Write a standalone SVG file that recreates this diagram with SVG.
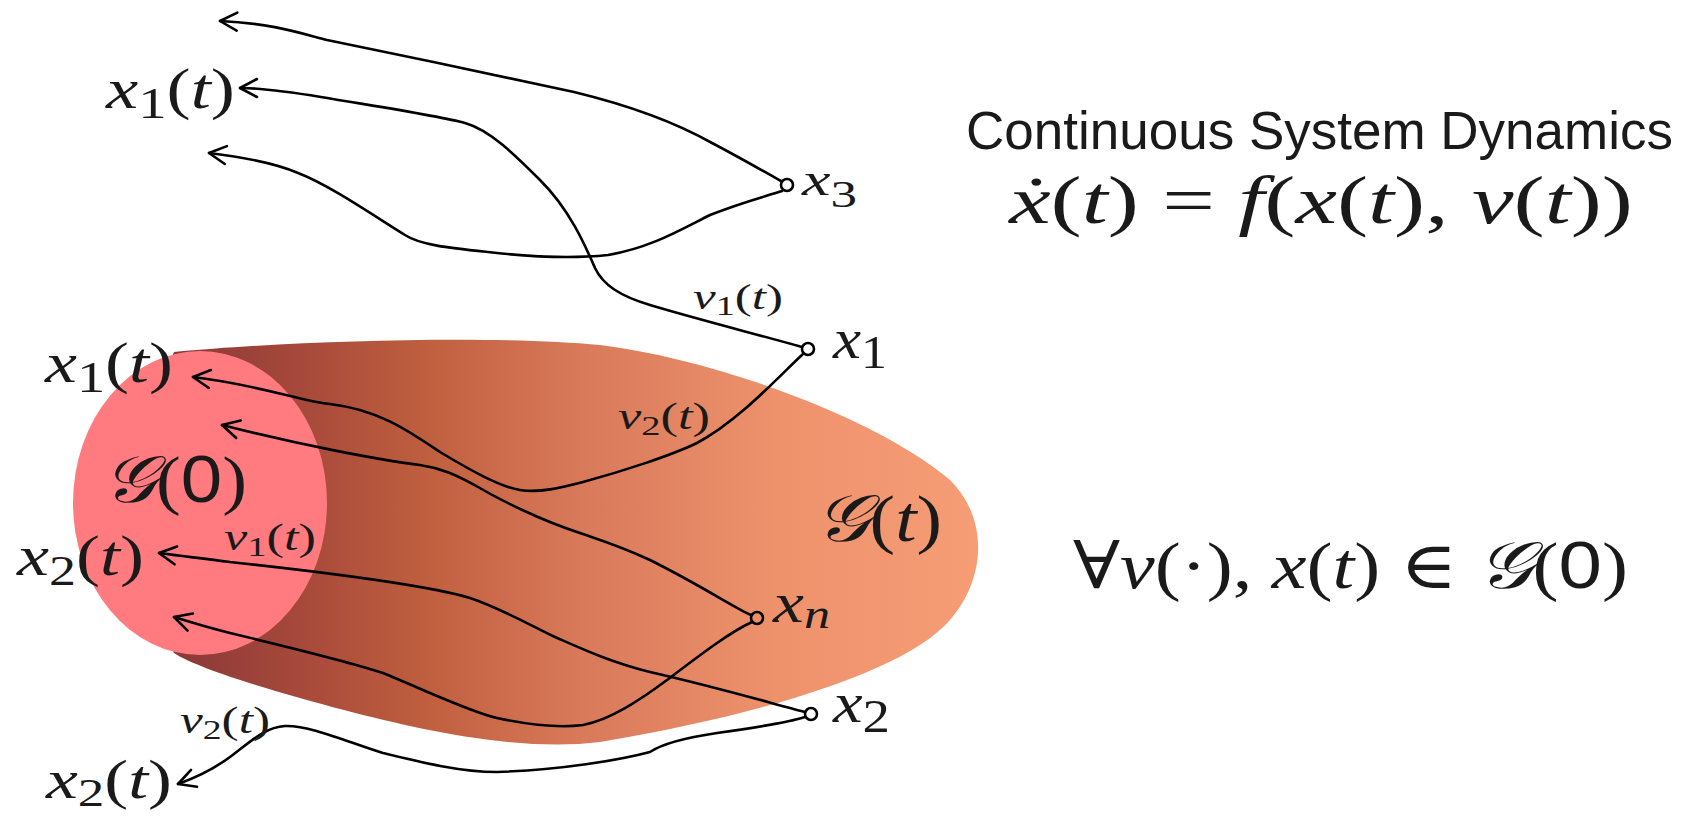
<svg xmlns="http://www.w3.org/2000/svg" width="1698" height="816" viewBox="0 0 1698 816">
<style>
.m{font-family:"Liberation Serif","DejaVu Serif",serif;fill:#1a1a1a}
.i{font-style:italic}
.s{font-family:"Liberation Sans","DejaVu Sans",sans-serif;fill:#1a1a1a}
.c{fill:none;stroke:#000;stroke-width:2.6;stroke-linecap:round;stroke-linejoin:round;marker-end:url(#arr)}
.n{fill:none;stroke:#000;stroke-width:2.6}
</style>
<defs>
<linearGradient id="gt" gradientUnits="userSpaceOnUse" x1="174" y1="0" x2="980" y2="0">
<stop offset="0" stop-color="#8a3838"/>
<stop offset="0.15" stop-color="#a6483a"/>
<stop offset="0.32" stop-color="#c0603f"/>
<stop offset="0.5" stop-color="#d8795a"/>
<stop offset="0.75" stop-color="#ee926c"/>
<stop offset="1" stop-color="#f69d76"/>
</linearGradient>
<marker id="arr" markerUnits="userSpaceOnUse" markerWidth="24" markerHeight="24" viewBox="-22 -12 24 24" refX="0" refY="0" orient="auto">
<path d="M-17,-9 L0,0 L-17,9" fill="none" stroke="#000" stroke-width="2.6" stroke-linecap="round" stroke-linejoin="round"/>
</marker>
</defs>

<g id="region-Gt">
<path d="M174,352 C300,340 500,335 600,345 C720,360 880,420 950,480 C990,520 985,580 950,620 C905,672 760,715 600,742 C520,752 420,730 344,710 C280,693 200,670 174,653 L110,500 Z" fill="url(#gt)"/>
<text class="m" x="815" y="541" font-size="66" textLength="127" lengthAdjust="spacingAndGlyphs"><tspan class="i">𝒢</tspan>(<tspan class="i">t</tspan>)</text>
</g>

<g id="region-G0">
<ellipse cx="200" cy="503" rx="127" ry="152" fill="#ff7b80"/>
<text class="m" x="103" y="502" font-size="66" textLength="144" lengthAdjust="spacingAndGlyphs"><tspan class="i">𝒢</tspan>(<tspan class="s">0</tspan>)</text>
</g>

<g id="connectors">
<path class="c" d="M781,181 C765,172 735,155 712,143 C680,125 640,108 574,92 C520,80 400,55 327,40 C300,33 270,23 220,21"/>
<path class="c" d="M802,347 C760,335 700,320 650,305 C620,296 603,285 595,268 C585,245 570,210 540,180 C515,155 490,130 465,123 C440,116 380,107 321,97 C290,92 260,88 240,88"/>
<path class="c" d="M782,191 C760,198 740,203 710,215 C680,230 650,248 608,255 C580,258 540,258 488,252 C450,248 420,245 405,235 C380,220 330,185 298,173 C280,165 250,158 209,153"/>
<path class="c" d="M803,354 C780,375 740,420 697,443 C670,456 620,472 583,482 C560,488 540,493 520,490 C500,487 470,470 440,452 C410,432 380,410 330,404 C300,401 260,385 193,377"/>
<path class="c" d="M751,615 C735,608 700,585 650,560 C620,546 600,540 580,533 C540,520 500,500 478,487 C455,474 440,468 420,465 C380,460 300,445 222,425"/>
<path class="c" d="M805,712 C770,703 720,688 650,672 C610,662 580,648 555,637 C530,625 500,608 470,598 C430,586 350,575 230,562 C200,558 180,556 159,553"/>
<path class="c" d="M752,622 C730,632 700,655 667,680 C640,700 610,720 583,725 C560,728 530,725 497,718 C470,712 420,688 383,673 C350,662 280,645 230,633 C210,628 190,622 174,617"/>
<path class="c" d="M805,717 C790,722 760,727 717,733 C690,737 665,742 650,752 C620,760 560,770 497,772 C460,772 420,762 383,753 C350,743 310,725 285,726 C265,727 250,742 230,757 C215,768 195,778 178,784"/>
<text class="m" x="693" y="309" font-size="36" textLength="90" lengthAdjust="spacingAndGlyphs"><tspan class="i">ν</tspan><tspan font-size="27" dy="6">1</tspan><tspan dy="-6">(</tspan><tspan class="i">t</tspan>)</text>
<text class="m" x="618" y="429" font-size="38" textLength="92" lengthAdjust="spacingAndGlyphs"><tspan class="i">ν</tspan><tspan font-size="28" dy="6">2</tspan><tspan dy="-6">(</tspan><tspan class="i">t</tspan>)</text>
<text class="m" x="224" y="550" font-size="38" textLength="92" lengthAdjust="spacingAndGlyphs"><tspan class="i">ν</tspan><tspan font-size="28" dy="6">1</tspan><tspan dy="-6">(</tspan><tspan class="i">t</tspan>)</text>
<text class="m" x="180" y="733" font-size="38" textLength="90" lengthAdjust="spacingAndGlyphs"><tspan class="i">ν</tspan><tspan font-size="28" dy="6">2</tspan><tspan dy="-6">(</tspan><tspan class="i">t</tspan>)</text>
</g>

<g id="label-x1t-top">
<text class="m" x="106" y="108" font-size="56" textLength="129" lengthAdjust="spacingAndGlyphs"><tspan class="i">x</tspan><tspan font-size="44" dy="10">1</tspan><tspan dy="-10">(</tspan><tspan class="i">t</tspan>)</text>
</g>
<g id="label-x1t-left">
<text class="m" x="45" y="382" font-size="56" textLength="128" lengthAdjust="spacingAndGlyphs"><tspan class="i">x</tspan><tspan font-size="44" dy="10">1</tspan><tspan dy="-10">(</tspan><tspan class="i">t</tspan>)</text>
</g>
<g id="label-x2t-left">
<text class="m" x="17" y="575" font-size="56" textLength="127" lengthAdjust="spacingAndGlyphs"><tspan class="i">x</tspan><tspan font-size="42" dy="10">2</tspan><tspan dy="-10">(</tspan><tspan class="i">t</tspan>)</text>
</g>
<g id="label-x2t-bottom">
<text class="m" x="46" y="798" font-size="54" textLength="126" lengthAdjust="spacingAndGlyphs"><tspan class="i">x</tspan><tspan font-size="40" dy="8">2</tspan><tspan dy="-8">(</tspan><tspan class="i">t</tspan>)</text>
</g>

<g id="node-x3">
<circle class="n" cx="787" cy="185" r="6"/>
<text class="m" x="802" y="195" font-size="46" textLength="55" lengthAdjust="spacingAndGlyphs"><tspan class="i">x</tspan><tspan font-size="38" dy="12">3</tspan></text>
</g>
<g id="node-x1">
<circle class="n" cx="808" cy="349" r="6"/>
<text class="m" x="833" y="358" font-size="56" textLength="54" lengthAdjust="spacingAndGlyphs"><tspan class="i">x</tspan><tspan font-size="46" dy="10">1</tspan></text>
</g>
<g id="node-xn">
<circle class="n" cx="757" cy="618" r="6"/>
<text class="m" x="773" y="622" font-size="56" textLength="57" lengthAdjust="spacingAndGlyphs"><tspan class="i">x</tspan><tspan class="i" font-size="42" dy="6">n</tspan></text>
</g>
<g id="node-x2">
<circle class="n" cx="811" cy="714" r="6"/>
<text class="m" x="833" y="722" font-size="56" textLength="57" lengthAdjust="spacingAndGlyphs"><tspan class="i">x</tspan><tspan font-size="46" dy="10">2</tspan></text>
</g>

<g id="caption">
<text class="s" x="966" y="149" font-size="53" textLength="707" lengthAdjust="spacingAndGlyphs">Continuous System Dynamics</text>
<text class="m" x="1009" y="223" font-size="68" textLength="624" lengthAdjust="spacingAndGlyphs"><tspan class="i">ẋ</tspan>(<tspan class="i">t</tspan>) = <tspan class="i">f</tspan>(<tspan class="i">x</tspan>(<tspan class="i">t</tspan>), <tspan class="i">ν</tspan>(<tspan class="i">t</tspan>))</text>
<text class="m" x="1073" y="588" font-size="66" textLength="555" lengthAdjust="spacingAndGlyphs">∀<tspan class="i">ν</tspan>(·), <tspan class="i">x</tspan>(<tspan class="i">t</tspan>) ∈ <tspan class="i">𝒢</tspan>(<tspan class="s">0</tspan>)</text>
</g>
</svg>
